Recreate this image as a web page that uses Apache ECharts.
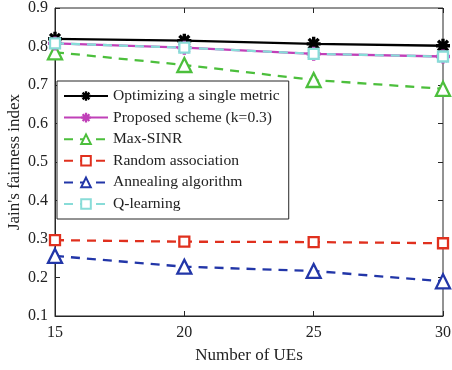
<!DOCTYPE html>
<html><head><meta charset="utf-8">
<script src="https://cdn.jsdelivr.net/npm/echarts@6/dist/echarts.min.js"></script>
<style>html,body{margin:0;padding:0;background:#fff}#c{width:452px;height:370px}</style>
</head><body><div id="c"></div>
<script>
const ues = [15, 20, 25, 30];
const singleMetric = [0.820, 0.815, 0.807, 0.802];
const proposed = [0.808, 0.797, 0.781, 0.774];
const maxSinr = [0.785, 0.752, 0.713, 0.690];
const randomAssoc = [0.297, 0.293, 0.292, 0.289];
const annealing = [0.256, 0.228, 0.217, 0.190];
const qLearning = [0.808, 0.797, 0.781, 0.774];
const yTicks = [0.1, 0.2, 0.3, 0.4, 0.5, 0.6, 0.7, 0.8, 0.9];
const xTicks = [15, 20, 25, 30];

const star = 'path://M-1.2,-5L1.2,-5L1.2,5L-1.2,5Z M-5,-1.2L5,-1.2L5,1.2L-5,1.2Z M-2.69,-4.38L4.38,2.69L2.69,4.38L-4.38,-2.69Z M2.69,-4.38L4.38,-2.69L-2.69,4.38L-4.38,2.69Z';
const font = 'Liberation Serif';
const pts = arr => ues.map((u, i) => [u, arr[i]]);

function mk(name, data, color, dashed, symbol, size, z) {
  const hollow = symbol !== star;
  return {
    name, type: 'line', data: pts(data), z: z,
    symbol, symbolSize: size,
    lineStyle: { color, width: 2.3, type: dashed ? [9, 7] : 'solid' },
    itemStyle: hollow ? { color: '#fff', borderColor: color, borderWidth: 2.3 } : { color },
    emphasis: { disabled: true }, animation: false
  };
}

const chart = echarts.init(document.getElementById('c'));
chart.setOption({
  animation: false,
  grid: { left: 55, right: 9, top: 8, bottom: 54, show: true, borderColor: '#262626', borderWidth: 1, outerBoundsMode: 'none', containLabel: false },
  textStyle: { fontFamily: font },
  legend: {
    orient: 'vertical', left: 57, top: 81,
    backgroundColor: '#fff', borderColor: '#262626', borderWidth: 1,
    padding: [7, 9, 7, 6], itemWidth: 44, itemHeight: 12, itemGap: 5.6,
    textStyle: { fontFamily: font, fontSize: 15.6, color: '#222' },
    data: ['Optimizing a single metric', 'Proposed scheme (k=0.3)', 'Max-SINR', 'Random association', 'Annealing algorithm', 'Q-learning']
  },
  xAxis: [{
    type: 'value', min: 15, max: 30, interval: 5,
    name: 'Number of UEs', nameLocation: 'middle', nameGap: 31, nameMoveOverlap: false,
    nameTextStyle: { fontFamily: font, fontSize: 17, color: '#222' },
    axisLine: { lineStyle: { color: '#262626' } },
    axisTick: { inside: true, length: 5, lineStyle: { color: '#262626' } },
    axisLabel: { fontFamily: font, fontSize: 16, color: '#222', margin: 9 },
    splitLine: { show: false }
  }, {
    type: 'value', position: 'top', min: 15, max: 30, interval: 5,
    axisLine: { show: false }, axisTick: { inside: true, length: 5, lineStyle: { color: '#262626' } },
    axisLabel: { show: false }, splitLine: { show: false }
  }],
  yAxis: [{
    type: 'value', min: 0.1, max: 0.9, interval: 0.1,
    name: "Jain's fairness index", nameLocation: 'middle', nameGap: 32, nameMoveOverlap: false,
    nameTextStyle: { fontFamily: font, fontSize: 17, color: '#222' },
    axisLine: { show: true, lineStyle: { color: '#262626' } },
    axisTick: { show: true, inside: true, length: 5, lineStyle: { color: '#262626' } },
    axisLabel: { fontFamily: font, fontSize: 16, color: '#222', margin: 7, formatter: v => v.toFixed(1) },
    splitLine: { show: false }
  }, {
    type: 'value', position: 'right', min: 0.1, max: 0.9, interval: 0.1,
    axisLine: { show: false }, axisTick: { show: true, inside: true, length: 5, lineStyle: { color: '#262626' } },
    axisLabel: { show: false }, splitLine: { show: false }
  }],
  series: [
    mk('Optimizing a single metric', singleMetric, '#000000', false, star, 14, 3),
    mk('Proposed scheme (k=0.3)', proposed, '#c040b8', false, star, 14, 4),
    mk('Max-SINR', maxSinr, '#4cbf3c', true, 'triangle', 14, 3),
    mk('Random association', randomAssoc, '#e0301e', true, 'rect', 10, 3),
    mk('Annealing algorithm', annealing, '#2236a8', true, 'triangle', 14, 3),
    mk('Q-learning', qLearning, '#88dcd8', true, 'rect', 10, 5)
  ]
});
</script></body></html>
